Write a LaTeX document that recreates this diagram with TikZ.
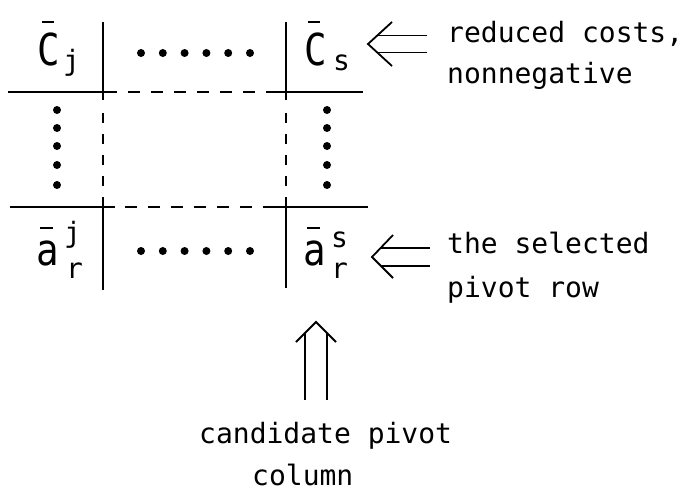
\documentclass[tikz,border=0pt]{standalone}
\usepackage{fontspec}
\usepackage{graphicx}
\setmonofont{DejaVu Sans Mono}
\newfontfamily\pixf{DejaVu Sans Mono}
\newcommand\txtf{\pixf\fontsize{28}{30}\selectfont}
\newcommand\bigf{\pixf\fontsize{44}{46}\selectfont}
\newcommand\barlet[4]{\rlap{\hspace*{#3}\rule[#2]{#4}{2.5pt}}\scalebox{0.85}[1]{\bigf #1}}
\begin{document}
\begin{tikzpicture}[x=1pt,y=-1pt,
  solidln/.style={line width=2.4pt},
  hdash/.style={line width=2.4pt,dash pattern=on 12pt off 11pt},
  vdash/.style={line width=2.4pt,dash pattern=on 10pt off 11pt},
  arrln/.style={line width=1.8pt},
  lbl/.style={inner sep=0pt,anchor=base west},
  txt/.style={inner sep=0pt,anchor=base west,font=\txtf},
  scr/.style={inner sep=0pt,anchor=base west,font=\txtf},
  dot/.style={circle,fill=black,inner sep=0pt,minimum size=8pt}]
\useasboundingbox (0,0) rectangle (688,491);

% grid coordinates
\coordinate (h1a) at (8,92);   \coordinate (h1b) at (117,92);
\coordinate (h1c) at (275,92); \coordinate (h1d) at (363,92);
\coordinate (h2a) at (10,207); \coordinate (h2b) at (115,207);
\coordinate (h2c) at (272,207);\coordinate (h2d) at (368,207);
\coordinate (v1a) at (103,22); \coordinate (v1b) at (103,100);
\coordinate (v1c) at (103,200);\coordinate (v1d) at (103,290);
\coordinate (v2a) at (286,22); \coordinate (v2b) at (286,100);
\coordinate (v2c) at (286,200);\coordinate (v2d) at (286,288);

\draw[solidln] (h1a) -- (h1b);
\draw[hdash] (h1b) ++(11,0) -- (h1c);
\draw[solidln] (h1c) -- (h1d);
\draw[solidln] (h2a) -- (h2b);
\draw[hdash] (h2b) ++(10,0) -- (h2c);
\draw[solidln] (h2c) -- (h2d);
\draw[solidln] (v1a) -- (v1b);
\draw[vdash] (v1b) ++(0,13) -- (v1c);
\draw[solidln] (v1c) -- (v1d);
\draw[solidln] (v2a) -- (v2b);
\draw[vdash] (v2b) ++(0,13) -- (v2c);
\draw[solidln] (v2c) -- (v2d);

% dots
\foreach \i/\x in {1/141,2/162.8,3/184.6,4/206.4,5/228.2,6/250}{
  \node[dot] (dt\i) at (\x,53) {};
  \node[dot] (db\i) at (\x,251) {};}
\foreach \i/\y in {1/110,2/128,3/146,4/165,5/185}{
  \node[dot] (dl\i) at (57,\y) {};
  \node[dot] (dr\i) at (327,\y) {};}

% labels
\node[lbl] (cj) at (37,65) {\barlet{C}{42pt}{5pt}{12pt}};
\node[scr] (cjsub) at (63,70) {j};
\node[lbl] (cs) at (304,65) {\barlet{C}{42pt}{4pt}{12pt}};
\node[scr] (cssub) at (333,70) {s};
\node[lbl] (ar) at (36,265) {\barlet{a}{36pt}{4pt}{13pt}};
\node[scr] (arsup) at (64,242) {j};
\node[scr] (arsub) at (66,278) {r};
\node[lbl] (as) at (303,265) {\barlet{a}{36pt}{4pt}{13pt}};
\node[scr] (assup) at (331,247) {s};
\node[scr] (assub) at (331,278) {r};

% texts
\node[txt] (t1) at (447,42) {reduced costs,};
\node[txt] (t2) at (447,83) {nonnegative};
\node[txt] (t3) at (447,253) {the selected};
\node[txt] (t4) at (447,297) {pivot row};
\node[txt] (t5) at (199,443) {candidate pivot};
\node[txt] (t6) at (252,485) {column};

% double arrow to reduced costs
\coordinate (a1tip) at (368,44);
\draw[arrln] (a1tip) ++(24,-22) -- (a1tip) -- ++(24,22);
\draw[arrln] (377,35.5) -- (427,35.5);
\draw[arrln] (377,52.5) -- (427,52.5);

% double arrow to pivot row
\coordinate (a2tip) at (372,257);
\draw[arrln] (a2tip) ++(21,-22) -- (a2tip) -- ++(21,21);
\draw[arrln] (381,248) -- (430,248);
\draw[arrln] (381,266) -- (430,266);

% up double arrow
\coordinate (a3tip) at (316,322);
\draw[arrln] (a3tip) ++(-20,20) -- (a3tip) -- ++(20,20);
\draw[arrln] (305,333) -- (305,400);
\draw[arrln] (327,333) -- (327,400);
\end{tikzpicture}
\end{document}
